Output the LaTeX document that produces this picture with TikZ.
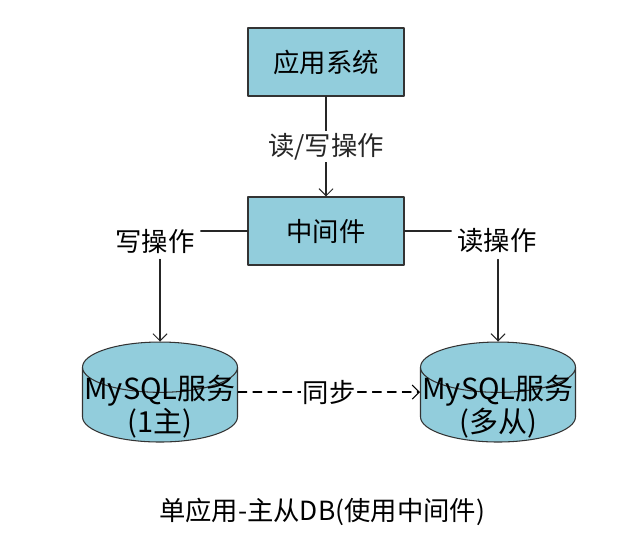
\documentclass[tikz,border=0pt]{standalone}
\usepackage{fontspec}
\setmainfont{Noto Sans CJK SC}
\usetikzlibrary{shapes.geometric,arrows.meta}
\definecolor{boxblue}{RGB}{146,205,220}
\tikzset{
  sysbox/.style={draw=black!80, fill=boxblue, minimum width=3.12cm, minimum height=1.36cm, line width=0.6pt},
  dbnode/.style={cylinder, shape border rotate=90, aspect=0.34, draw=black!80, line width=0.6pt,
    cylinder uses custom fill, cylinder body fill=boxblue, cylinder end fill=boxblue,
    minimum width=3.1cm, minimum height=2cm, inner sep=0pt, anchor=shape center},
  dbtext/.style={font=\fontsize{16.5}{17.5}\selectfont, align=center, inner sep=0pt},
  lab/.style={fill=white, inner sep=1pt},
  line/.style={black!85, line width=0.6pt}
}
\begin{document}
\begin{tikzpicture}[x=0.02cm, y=-0.02cm, font=\fontsize{15}{19}\selectfont, line join=round, line cap=round, >={Straight Barb[length=4pt,width=8pt]}]
    \useasboundingbox (0,0) rectangle (644,542);
    \node[sysbox] (app) at (326,62) {应用系统};
    \node[sysbox] (mid) at (326,231) {中间件};
    \node[dbnode] (master) at (160,392) {\hspace*{2.96cm}};
    \node[dbnode] (slave) at (498,392) {\hspace*{2.96cm}};
    \node[dbtext] (mtext) at (160,407) {MySQL服务\\(1主)};
    \node[dbtext] (stext) at (498,407) {MySQL服务\\(多从)};
    \node (wlab) at (155,241) {写操作};
    \node (rlab) at (497,241) {读操作};
    \node (cap) at (322,512) {单应用-主从DB(使用中间件)};
    % connectors
    \draw[->, line] (app) -- node[lab] (rwlab) {读/写操作} (mid);
    \draw[line] (mid.west) -- (mid.west -| wlab.east);
    \draw[line] (mid.east) -- (mid.east -| rlab.west);
    \draw[->, line] (wlab.south -| master.top) -- (master.top);
    \draw[->, line] (rlab.south -| slave.top) -- (slave.top);
    \draw[->, line, black, dash pattern=on 5pt off 3.5pt] (master.east |- master.shape center) -- node[lab] (synclab) {同步} (slave.west |- slave.shape center);
\end{tikzpicture}
\end{document}
